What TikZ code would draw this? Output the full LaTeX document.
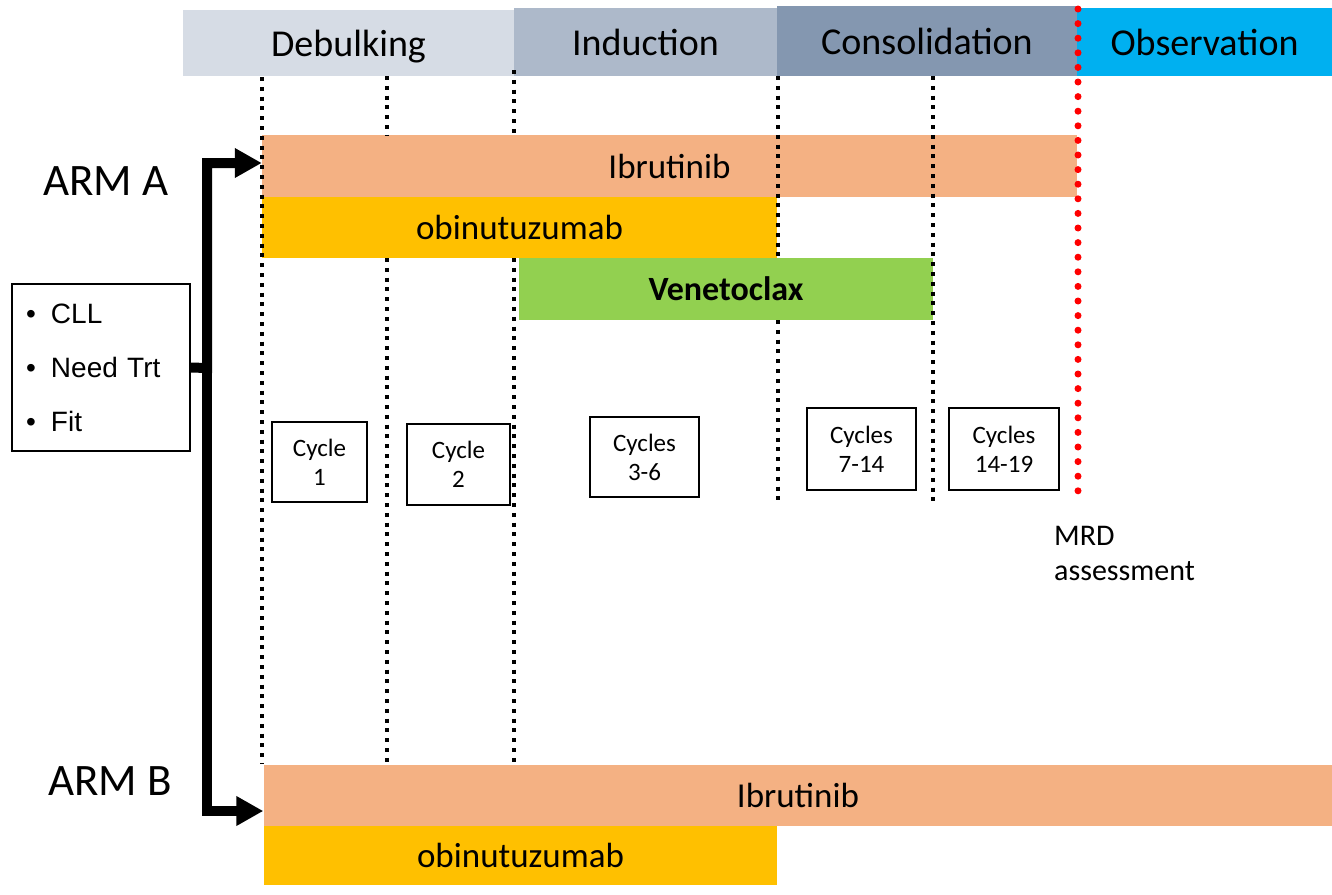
\documentclass[tikz,border=0pt]{standalone}
\usepackage{fontspec}
\setmainfont{Carlito}
\newfontfamily\arialf{Liberation Sans}
\usetikzlibrary{arrows.meta}
\definecolor{cDeb}{HTML}{D6DCE5}
\definecolor{cInd}{HTML}{ADB9CA}
\definecolor{cCon}{HTML}{8497B0}
\definecolor{cObs}{HTML}{00B0F0}
\definecolor{cIbr}{HTML}{F4B183}
\definecolor{cObi}{HTML}{FFC000}
\definecolor{cVen}{HTML}{92D050}
\definecolor{cRed}{HTML}{FF0000}
\begin{document}
\begin{tikzpicture}[x=1pt,y=-1pt,
  hdr/.style={draw=none, inner sep=0pt, text depth=0pt, font=\fontsize{38}{46}\selectfont},
  bar/.style={draw=none, inner sep=0pt, text depth=0pt, font=\fontsize{35}{42}\selectfont},
  cyc/.style={draw=black, line width=2pt, inner sep=0pt, align=center, font=\fontsize{25}{29}\selectfont},
  vdot/.style={black, line width=4pt, dash pattern=on 4pt off 5.8pt},
  rdot/.style={cRed, line width=7pt, line cap=round, dash pattern=on 0pt off 14.6pt},
  flow/.style={line width=10pt, line join=miter, -{Triangle[length=27pt,width=28pt]}},
  arm/.style={inner sep=0pt, anchor=base, font=\fontsize{45}{54}\selectfont},
]
\useasboundingbox (0,0) rectangle (1332,894);
\fill[white] (0,0) rectangle (1332,894);

% header
\node[hdr, fill=cDeb, minimum width=331pt, minimum height=66pt] (deb) at (348.5,43) {Debulking};
\node[hdr, fill=cInd, minimum width=263pt, minimum height=68pt] (ind) at (645.5,42) {Induction};
\node[hdr, fill=cCon, minimum width=300pt, minimum height=70pt] (con) at (927,41) {Consolidation};
\node[hdr, fill=cObs, minimum width=255pt, minimum height=68pt] (obs) at (1204.5,42) {Observation};

% ARM A bars
\node[bar, fill=cIbr, minimum width=815pt, minimum height=62pt] (ibrA) at (669.5,166) {Ibrutinib};
\node[bar, fill=cObi, minimum width=515pt, minimum height=61pt] (obiA) at (519.5,227.5) {obinutuzumab};

% dotted separators (behind Venetoclax where hidden)
\draw[vdot] (387,76) -- (387,135);
\draw[vdot] (387,258) -- (387,764);
\draw[vdot] (514,70) -- (514,135);
\draw[vdot] (514,258) -- (514,764);
\draw[vdot] (778,76) -- (778,258);

\node[bar, fill=cVen, minimum width=414pt, minimum height=62pt, font=\fontsize{34}{41}\selectfont\bfseries] (ven) at (726,289) {Venetoclax};

\draw[vdot] (778,320) -- (778,500);
\draw[vdot] (262,77) -- (262,764);
\draw[vdot] (933,76) -- (933,505);
\draw[rdot] (1078,9) -- (1078,505);

% ARM B bars
\node[bar, fill=cIbr, minimum width=1069pt, minimum height=61pt] (ibrB) at (798,795.5) {Ibrutinib};
\node[bar, fill=cObi, minimum width=513pt, minimum height=59pt] (obiB) at (520.5,855.5) {obinutuzumab};

% arm labels
\node[arm] (armA) at (106,195) {ARM A};
\node[arm] (armB) at (110,795) {ARM B};

% inclusion box
\node[draw=black, line width=2pt, minimum width=178pt, minimum height=167pt, text width=150pt, inner sep=0pt, align=left,
      font=\arialf\fontsize{28}{54}\selectfont] (crit) at (101,367.5)
  {\makebox[25pt][l]{•}CLL\\
   \makebox[25pt][l]{•}Need Trt\\
   \makebox[25pt][l]{•}Fit};

% cycle boxes
\node[cyc, minimum width=95pt, minimum height=80pt] (c1) at (319.5,462) {Cycle\\1};
\node[cyc, minimum width=103pt, minimum height=81pt] (c2) at (458.5,464.5) {Cycle\\2};
\node[cyc, minimum width=109pt, minimum height=80pt] (c3) at (644.5,457) {Cycles\\3-6};
\node[cyc, minimum width=109pt, minimum height=82pt] (c4) at (861.5,449) {Cycles\\7-14};
\node[cyc, minimum width=110pt, minimum height=82pt] (c5) at (1004,449) {Cycles\\14-19};

% MRD label
\node[anchor=north west, inner sep=0pt, align=left, font=\fontsize{30}{35}\selectfont] (mrd) at (1054,525.7) {MRD\\assessment};

% randomisation arrows
\coordinate (jn) at (207,368);
\draw[flow] (crit.east) -- (jn) |- ([yshift=3pt]ibrA.west);
\draw[flow] (jn) |- ([yshift=-15.5pt]ibrB.west);
\end{tikzpicture}
\end{document}
